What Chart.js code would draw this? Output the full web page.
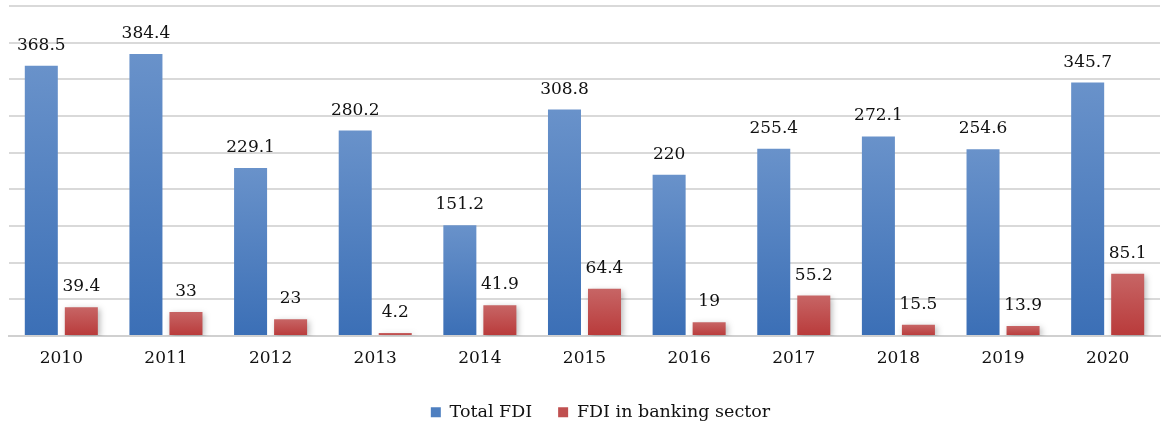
<!DOCTYPE html>
<html>
<head>
<meta charset="utf-8">
<script src="https://cdn.jsdelivr.net/npm/chart.js@4/dist/chart.umd.min.js"></script>
<style>
  html,body{margin:0;padding:0;background:#fff;}
  #wrap{width:1163px;height:425px;}
</style>
</head>
<body>
<div id="wrap"><canvas id="fdiChart" width="1163" height="425"></canvas></div>
<script>
// Data
const years = ["2010","2011","2012","2013","2014","2015","2016","2017","2018","2019","2020"];
const totalFdi = [368.5, 384.4, 229.1, 280.2, 151.2, 308.8, 220, 255.4, 272.1, 254.6, 345.7];
const bankingFdi = [39.4, 33, 23, 4.2, 41.9, 64.4, 19, 55.2, 15.5, 13.9, 85.1];

const FONT = "'DejaVu Serif', 'Liberation Serif', serif";

// gradient per bar, lighter on top
function barGradient(top, bottom){
    return ctx=>{
        const chart=ctx.chart;
        if(!chart.chartArea || ctx.type!=="data") return bottom;
        const y=chart.scales.y;
        const yTop=y.getPixelForValue(ctx.raw), yBase=y.getPixelForValue(0);
        if(!isFinite(yTop) || yBase-yTop<1) return bottom;
        const g=chart.ctx.createLinearGradient(0,yTop,0,yBase);
        g.addColorStop(0,top); g.addColorStop(1,bottom);
        return g;
    };
}

// value labels above bars
const valueLabels = {
    id:"valueLabels",
    afterDatasetsDraw(chart){
        const ctx=chart.ctx;
        ctx.save();
        ctx.font="17px "+FONT;
        ctx.fillStyle="#111";
        ctx.textAlign="center";
        ctx.textBaseline="alphabetic";
        chart.data.datasets.forEach((ds,i)=>{
            chart.getDatasetMeta(i).data.forEach((bar,j)=>{
                ctx.fillText(String(ds.data[j]), bar.x, bar.y-16);
            });
        });
        ctx.restore();
    }
};

// soft shadow on the red bars
const barShadow = {
    id:"barShadow",
    beforeDatasetDraw(chart,args){
        const ctx=chart.ctx;
        ctx.save();
        if(args.index===1){
            ctx.shadowColor="rgba(0,0,0,0.28)";
            ctx.shadowBlur=6;
            ctx.shadowOffsetX=2;
            ctx.shadowOffsetY=2;
        }
    },
    afterDatasetDraw(chart){ chart.ctx.restore(); }
};

// legend sits lower and a little right of centre
const legendTweak = {
    id:"legendTweak",
    beforeInit(chart){
        const lg=chart.legend;
        const fit=lg.fit;
        lg.fit=function(){ fit.call(this); this.height-=6; };
    },
    afterLayout(chart){
        chart.legend.left+=16;
        chart.legend.right+=16;
    }
};

new Chart(document.getElementById("fdiChart").getContext("2d"),{
    type:"bar",
    data:{
        labels:years,
        datasets:[
            {label:"Total FDI", data:totalFdi, backgroundColor:barGradient("#6992ca","#3b6fb6"), borderWidth:0},
            {label:"FDI in banking sector", data:bankingFdi, backgroundColor:barGradient("#c76565","#b93a3a"), borderWidth:0}
        ]
    },
    options:{
        responsive:false,
        animation:false,
        devicePixelRatio:1,
        categoryPercentage:0.765,
        barPercentage:0.825,
        layout:{padding:{left:9,right:3,top:6,bottom:0}},
        scales:{
            x:{
                grid:{display:false},
                border:{display:true,color:"#d0d0d0",width:2},
                ticks:{color:"#111",font:{family:FONT,size:17},padding:4},
                afterFit(scale){ scale.height+=5; }
            },
            y:{
                min:0,max:450,
                ticks:{display:false,stepSize:50},
                grid:{color:"#d9d9d9",lineWidth:2,drawTicks:false},
                border:{display:false}
            }
        },
        plugins:{
            legend:{
                position:"bottom",
                labels:{
                    color:"#111",
                    font:{family:FONT,size:17.5},
                    boxWidth:10,boxHeight:10,
                    padding:26,
                    generateLabels(chart){
                        const cols=["#4e7fc0","#c05050"];
                        return chart.data.datasets.map((ds,i)=>({
                            text:ds.label, fillStyle:cols[i], strokeStyle:cols[i], lineWidth:0,
                            datasetIndex:i, hidden:false, fontColor:"#111"
                        }));
                    }
                }
            },
            tooltip:{enabled:false}
        }
    },
    plugins:[barShadow, valueLabels, legendTweak]
});
</script>
</body>
</html>
